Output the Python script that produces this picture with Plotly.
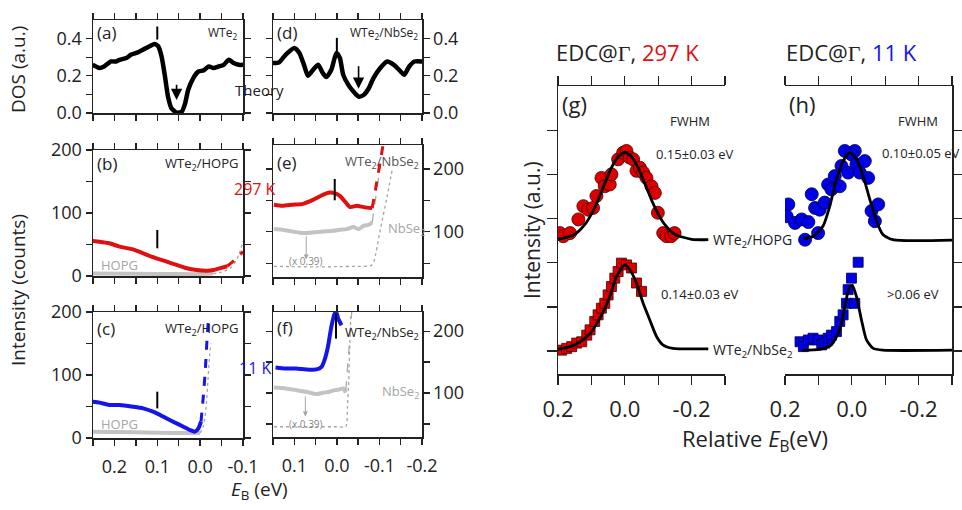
import plotly.graph_objects as go

W, H = 962, 510
RED = "rgb(222,16,16)"
BLUE = "rgb(20,20,235)"
GRAY = "rgb(195,195,195)"
DGRAY = "rgb(165,165,165)"
INK = "#222222"
FONT = "Open Sans"

# ---------------- data ----------------
# tick labels
lx_vals = [0.25, 0.2, 0.15, 0.1, 0.05, 0.0, -0.05, -0.1]
lx_text = ["", "0.2", "", "0.1", "", "0.0", "", "-0.1"]
rx_vals = [0.15, 0.1, 0.05, 0.0, -0.05, -0.1, -0.15, -0.2]
rx_text = ["", "0.1", "", "0.0", "", "-0.1", "", "-0.2"]
dos_vals = [0.0, 0.1, 0.2, 0.3, 0.4]
dos_text = ["0.0", "", "0.2", "", "0.4"]
cnt_vals = [0, 50, 100, 150, 200]
cnt_text = ["0", "", "100", "", "200"]
edc_x_vals = [0.2, 0.1, 0.0, -0.1, -0.2, -0.3]
edc_x_text = ["0.2", "", "0.0", "", "-0.2", ""]
edc_y_vals = [0, 1, 2, 3, 4, 5]

# (a) theory DOS WTe2
a_x = [0.251, 0.235, 0.224, 0.208, 0.196, 0.188, 0.172, 0.161, 0.149, 0.133, 0.118, 0.106, 0.098, 0.090,
       0.082, 0.075, 0.067, 0.055, 0.043, 0.035, 0.028, 0.016, 0.004, -0.008, -0.020, -0.031, -0.043,
       -0.055, -0.067, -0.078, -0.090, -0.100]
a_y = [0.259, 0.242, 0.250, 0.277, 0.277, 0.286, 0.296, 0.314, 0.323, 0.341, 0.359, 0.371, 0.359, 0.304,
       0.196, 0.088, 0.025, 0.002, 0.007, 0.052, 0.124, 0.188, 0.223, 0.229, 0.250, 0.242, 0.250,
       0.259, 0.286, 0.269, 0.259, 0.259]
# (d) theory DOS WTe2/NbSe2
d_x = [0.152, 0.136, 0.120, 0.100, 0.088, 0.076, 0.068, 0.056, 0.044, 0.033, 0.025, 0.013, 0.001, -0.007,
       -0.015, -0.027, -0.039, -0.051, -0.063, -0.075, -0.086, -0.102, -0.118, -0.134, -0.150, -0.158,
       -0.170, -0.182, -0.202]
d_y = [0.269, 0.272, 0.314, 0.350, 0.323, 0.250, 0.200, 0.232, 0.259, 0.215, 0.193, 0.232, 0.323, 0.296,
       0.205, 0.151, 0.115, 0.088, 0.097, 0.133, 0.188, 0.242, 0.277, 0.259, 0.223, 0.205,
       0.250, 0.277, 0.277]

# (b) WTe2/HOPG 297 K
b_red_x = [0.251, 0.235, 0.212, 0.188, 0.157, 0.133, 0.102, 0.078, 0.055, 0.031, 0.008, -0.016, -0.031, -0.047, -0.063]
b_red_y = [55.6, 54.5, 51.9, 46.6, 42.3, 36.0, 28.0, 22.8, 17.5, 12.2, 9.5, 8.5, 9.5, 12.5, 15.5]
b_red_dash_x = [-0.063, -0.075, -0.088, -0.100]
b_red_dash_y = [15.5, 22.0, 30.0, 39.0]
b_gray_x = [0.25, 0.15, 0.05, 0.0, -0.03]
b_gray_y = [4.0, 3.5, 3.0, 3.0, 4.0]
b_gray_dot_x = [-0.03, -0.05, -0.07, -0.08, -0.09, -0.10]
b_gray_dot_y = [4.0, 6.0, 12.0, 20.0, 33.0, 55.0]

# (c) WTe2/HOPG 11 K
c_blue_x = [0.251, 0.235, 0.212, 0.188, 0.157, 0.133, 0.110, 0.086, 0.063, 0.039, 0.024, 0.012, 0.004, -0.002]
c_blue_y = [57.7, 56.1, 52.4, 52.4, 49.7, 47.1, 41.8, 33.9, 25.9, 17.9, 12.7, 10.1, 15.3, 25.9]
c_blue_dash_x = [-0.002, -0.008, -0.012, -0.016, -0.020]
c_blue_dash_y = [25.9, 70.9, 107.9, 155.6, 195.0]
c_gray_x = [0.25, 0.15, 0.05, 0.0]
c_gray_y = [10.0, 9.0, 8.0, 8.0]
c_gray_dot_x = [0.0, -0.008, -0.014, -0.018, -0.022, -0.025]
c_gray_dot_y = [8.0, 20.0, 50.0, 90.0, 130.0, 150.0]

# (e) WTe2/NbSe2 297 K
e_red_x = [0.148, 0.128, 0.104, 0.080, 0.056, 0.033, 0.017, 0.005, -0.007, -0.019, -0.031, -0.047, -0.063, -0.083]
e_red_y = [142.9, 141.3, 142.9, 144.4, 150.8, 158.7, 162.4, 161.4, 157.1, 148.1, 139.2, 141.3, 139.2, 137.6]
e_red_dash_x = [-0.083, -0.090, -0.096, -0.102, -0.108]
e_red_dash_y = [137.6, 164.0, 188.0, 211.6, 236.0]
e_gray_x = [0.148, 0.128, 0.104, 0.080, 0.056, 0.033, 0.009, -0.007, -0.023, -0.039, -0.051, -0.063, -0.075, -0.083]
e_gray_y = [104.2, 103.2, 100.5, 97.9, 98.9, 100.5, 101.6, 103.2, 104.2, 107.4, 104.2, 109.5, 111.1, 114.8]
e_gray_dash_x = [-0.083, -0.092, -0.102]
e_gray_dash_y = [114.8, 160.0, 205.0]
e_nb_x = [0.148, 0.10, 0.05, 0.0, -0.05, -0.080, -0.087, -0.102, -0.118, -0.130]
e_nb_y = [44.9, 44.5, 44.0, 44.5, 45.0, 46.0, 52.9, 103.0, 156.0, 198.4]

# (f) WTe2/NbSe2 11 K
f_blue_x = [0.144, 0.120, 0.096, 0.072, 0.048, 0.036, 0.029, 0.021, 0.013, 0.005, 0.001, -0.003, -0.011]
f_blue_y = [141.4, 139.8, 139.8, 138.2, 138.2, 142.4, 153.2, 174.7, 207.0, 228.5, 230.0, 220.5, 209.7]
f_gray_x = [0.148, 0.120, 0.096, 0.072, 0.048, 0.033, 0.017, 0.005, -0.007, -0.015, -0.021]
f_gray_y = [109.1, 107.5, 104.8, 102.1, 98.4, 100.5, 102.1, 104.8, 106.0, 107.5, 100.5]
f_gray_dash_x = [-0.021, -0.035]
f_gray_dash_y = [104.8, 231.0]
f_nb_x = [0.148, 0.10, 0.05, 0.0, -0.021, -0.025, -0.028, -0.031, -0.033]
f_nb_y = [45.6, 45.6, 45.6, 45.6, 45.6, 77.9, 121.0, 190.8, 228.0]

# feature markers: (x, y_low, y_high)
tick_a = (0.10, 0.395, 0.465)
tick_d = (0.0, 0.323, 0.404)
tick_b = (0.10, 44.0, 73.0)
tick_c = (0.10, 47.0, 73.5)
tick_e = (0.005, 150.0, 184.0)
tick_f = (0.002, 188.0, 228.0)
# arrows: (x, y_tail, y_head)
arrow_a = (0.055, 0.16, 0.07)
arrow_d = (-0.051, 0.26, 0.13)
arrow_e = (0.072, 95.0, 56.0)
arrow_f = (0.074, 97.0, 62.0)

# (g) EDC 297 K
g_hopg_x = [0.194, 0.184, 0.164, 0.139, 0.124, 0.110, 0.095, 0.085, 0.070, 0.060, 0.045, 0.040, 0.020, 0.005,
            -0.005, -0.015, -0.025, -0.035, -0.045, -0.055, -0.065, -0.080, -0.090, -0.099, -0.115, -0.125,
            -0.139, -0.149]
g_hopg_y = [2.67, 2.60, 2.67, 2.98, 3.28, 3.20, 3.24, 3.51, 3.92, 3.73, 3.77, 4.00, 4.34, 4.49,
            4.53, 4.38, 4.34, 4.08, 4.15, 4.04, 3.92, 3.73, 3.58, 3.13, 2.67, 2.60,
            2.60, 2.67]
g_hopg_fit_x = [0.2, 0.15, 0.12, 0.1, 0.08, 0.06, 0.04, 0.02, 0.0, -0.02, -0.04, -0.06, -0.08, -0.1, -0.12,
                -0.15, -0.2, -0.25]
g_hopg_fit_y = [2.53, 2.64, 2.86, 3.10, 3.42, 3.79, 4.15, 4.40, 4.50, 4.40, 4.15, 3.79, 3.42, 3.10, 2.86,
                2.64, 2.53, 2.52]
g_nb_x = [0.189, 0.174, 0.159, 0.144, 0.129, 0.114, 0.104, 0.090, 0.080, 0.070, 0.060, 0.050, 0.040, 0.030,
          0.020, 0.010, -0.005, -0.020, -0.035, -0.050]
g_nb_y = [0.02, 0.06, 0.10, 0.18, 0.21, 0.36, 0.48, 0.67, 0.82, 0.97, 1.08, 1.27, 1.46, 1.65,
          1.80, 1.99, 1.95, 1.88, 1.54, 1.35]
g_nb_fit_x = [0.2, 0.164, 0.134, 0.104, 0.075, 0.045, 0.025, 0.0, -0.015, -0.035, -0.055, -0.075, -0.095,
              -0.114, -0.144, -0.25]
g_nb_fit_y = [0.04, 0.10, 0.21, 0.40, 0.74, 1.23, 1.69, 1.95, 1.84, 1.54, 1.08, 0.70, 0.33, 0.14, 0.06, 0.05]

# (h) EDC 11 K
h_hopg_x = [0.190, 0.195, 0.170, 0.150, 0.130, 0.140, 0.101, 0.110, 0.096, 0.081, 0.120, 0.071, 0.061, 0.051,
            0.036, 0.031, 0.011, 0.021, -0.009, 0.001, -0.014, -0.024, -0.039, -0.049, -0.059, -0.079, -0.069]
h_hopg_y = [3.32, 3.05, 2.90, 2.98, 2.92, 2.52, 2.67, 3.24, 3.20, 3.36, 3.55, 3.77, 3.66, 3.96,
            3.73, 4.19, 4.04, 4.53, 4.53, 4.45, 4.23, 4.04, 4.30, 3.92, 3.17, 3.32, 2.94]
h_hopg_fit_x = [0.145, 0.115, 0.086, 0.066, 0.046, 0.026, 0.006, -0.014, -0.034, -0.054, -0.074, -0.093,
                -0.123, -0.3]
h_hopg_fit_y = [2.54, 2.60, 2.83, 3.28, 3.89, 4.30, 4.49, 4.34, 3.96, 3.43, 2.94, 2.64, 2.52, 2.51]
h_nb_x = [0.155, 0.145, 0.130, 0.116, 0.101, 0.090, 0.081, 0.071, 0.061, 0.046, 0.036, 0.026, 0.016, 0.011,
          0.001, -0.009, -0.019]
h_nb_y = [0.21, 0.10, 0.25, 0.29, 0.25, 0.14, 0.18, 0.29, 0.36, 0.44, 0.67, 0.82, 1.08, 1.39,
          1.65, 1.08, 2.01]
h_nb_fit_x = [0.150, 0.096, 0.061, 0.036, 0.021, 0.008, -0.002, -0.014, -0.029, -0.044, -0.064, -0.093, -0.3]
h_nb_fit_y = [0.02, 0.04, 0.14, 0.48, 1.01, 1.42, 1.48, 1.23, 0.70, 0.25, 0.06, 0.02, 0.02]

# ---------------- figure ----------------
fig = go.Figure()


def line(xs, ys, xa, ya, color, width, dash="solid", shape="spline"):
    fig.add_trace(go.Scatter(x=xs, y=ys, xaxis=xa, yaxis=ya, mode="lines",
                             line=dict(color=color, width=width, dash=dash, shape=shape, smoothing=0.6),
                             hoverinfo="skip", showlegend=False))


def pts(xs, ys, xa, ya, color, edge, symbol, size):
    fig.add_trace(go.Scatter(x=xs, y=ys, xaxis=xa, yaxis=ya, mode="markers",
                             marker=dict(color=color, symbol=symbol, size=size,
                                         line=dict(color=edge, width=0.8)),
                             hoverinfo="skip", showlegend=False))


# (a),(d)
line(a_x, a_y, "x", "y", "black", 4.5)
line(d_x, d_y, "x4", "y4", "black", 4.5)
# (b)
line(b_gray_x, b_gray_y, "x2", "y2", GRAY, 4)
line(b_gray_dot_x, b_gray_dot_y, "x2", "y2", DGRAY, 1.3, "dot")
line(b_red_x, b_red_y, "x2", "y2", RED, 4)
line(b_red_dash_x, b_red_dash_y, "x2", "y2", RED, 3, "dash")
# (c)
line(c_gray_x, c_gray_y, "x3", "y3", GRAY, 4)
line(c_gray_dot_x, c_gray_dot_y, "x3", "y3", DGRAY, 1.3, "dot")
line(c_blue_x, c_blue_y, "x3", "y3", BLUE, 4)
line(c_blue_dash_x, c_blue_dash_y, "x3", "y3", BLUE, 3, "dash")
# (e)
line(e_nb_x, e_nb_y, "x5", "y5", DGRAY, 1.3, "dot")
line(e_gray_x, e_gray_y, "x5", "y5", GRAY, 4)
line(e_gray_dash_x, e_gray_dash_y, "x5", "y5", DGRAY, 1.2, "dash", "linear")
line(e_red_x, e_red_y, "x5", "y5", RED, 4)
line(e_red_dash_x, e_red_dash_y, "x5", "y5", RED, 3, "dash")
# (f)
line(f_nb_x, f_nb_y, "x6", "y6", DGRAY, 1.3, "dot")
line(f_gray_x, f_gray_y, "x6", "y6", GRAY, 4)
line(f_gray_dash_x, f_gray_dash_y, "x6", "y6", DGRAY, 1.2, "dash", "linear")
line(f_blue_x, f_blue_y, "x6", "y6", BLUE, 4)
# (g)
pts(g_hopg_x, g_hopg_y, "x7", "y7", "rgb(222,0,0)", "rgb(70,0,0)", "circle", 13)
pts(g_nb_x, g_nb_y, "x7", "y7", "rgb(222,0,0)", "rgb(70,0,0)", "square", 10)
line(g_hopg_fit_x, g_hopg_fit_y, "x7", "y7", "black", 2.8)
line(g_nb_fit_x, g_nb_fit_y, "x7", "y7", "black", 2.8)
# (h)
pts(h_hopg_x, h_hopg_y, "x8", "y8", "rgb(0,0,235)", "rgb(0,0,70)", "circle", 13)
pts(h_nb_x, h_nb_y, "x8", "y8", "rgb(0,0,235)", "rgb(0,0,70)", "square", 10)
line(h_hopg_fit_x, h_hopg_fit_y, "x8", "y8", "black", 2.8)
line(h_nb_fit_x, h_nb_fit_y, "x8", "y8", "black", 2.8)

# feature ticks
shapes = []
for (t, xr, yr, col) in [(tick_a, "x", "y", "black"), (tick_d, "x4", "y4", "black"),
                         (tick_b, "x2", "y2", "black"), (tick_c, "x3", "y3", "black"),
                         (tick_e, "x5", "y5", "black"), (tick_f, "x6", "y6", "black")]:
    shapes.append(dict(type="line", xref=xr, yref=yr, x0=t[0], x1=t[0], y0=t[1], y1=t[2],
                       line=dict(color=col, width=2)))

ann = []
for (ar, xr, yr, col, w, hs) in [(arrow_a, "x", "y", "black", 1.6, 1.4), (arrow_d, "x4", "y4", "black", 1.6, 1.4),
                                 (arrow_e, "x5", "y5", DGRAY, 1.0, 1.0), (arrow_f, "x6", "y6", DGRAY, 1.0, 1.0)]:
    ann.append(dict(x=ar[0], y=ar[2], ax=ar[0], ay=ar[1], xref=xr, yref=yr, axref=xr, ayref=yr,
                    showarrow=True, arrowhead=2, arrowsize=hs, arrowwidth=w, arrowcolor=col, text=""))


def T(text, x, y, size=13, color=INK, xanchor="center", angle=0, family=FONT):
    ann.append(dict(text=text, x=x / W, y=1 - y / H, xref="paper", yref="paper", showarrow=False,
                    xanchor=xanchor, yanchor="middle", textangle=angle,
                    font=dict(size=size, color=color, family=family)))


T("DOS (a.u.)", 18, 70, 19, angle=-90)
T("Intensity (counts)", 18, 290, 19, angle=-90)
T("<i>E</i><sub>B</sub> (eV)", 259, 490, 19)
T("Theory", 259, 90, 15)
T("(a)", 95, 33, 17, xanchor="left")
T("WTe<sub>2</sub>", 239, 33, 12, xanchor="right")
T("(d)", 275, 33, 17, xanchor="left")
T("WTe<sub>2</sub>/NbSe<sub>2</sub>", 420, 33, 12, xanchor="right")
T("(b)", 95, 164, 17, xanchor="left")
T("WTe<sub>2</sub>/HOPG", 240, 164, 13, xanchor="right")
T("297 K", 278, 189, 16, RED, xanchor="right")
T("HOPG", 99, 265, 13, DGRAY, xanchor="left")
T("(e)", 275, 162, 17, xanchor="left")
T("WTe<sub>2</sub>/NbSe<sub>2</sub>", 421, 162, 13, "#555555", xanchor="right")
T("NbSe<sub>2</sub>", 386, 229, 13, DGRAY, xanchor="left")
T("(x 0.39)", 306, 261, 10, "#888888")
T("(c)", 95, 328, 17, xanchor="left")
T("WTe<sub>2</sub>/HOPG", 240, 329, 13, xanchor="right")
T("11 K", 273, 368, 16, BLUE, xanchor="right")
T("HOPG", 99, 424, 13, DGRAY, xanchor="left")
T("(f)", 275, 327, 17, xanchor="left")
T("WTe<sub>2</sub>/NbSe<sub>2</sub>", 421, 333, 13, xanchor="right")
T("NbSe<sub>2</sub>", 380, 392, 13, DGRAY, xanchor="left")
T("(x 0.39)", 306, 424, 10, "#888888")
T("EDC@<span style='font-family:Liberation Serif'>Γ</span>, <span style='color:rgb(222,16,16)'>297 K</span>",
  554, 52, 22, xanchor="left")
T("EDC@<span style='font-family:Liberation Serif'>Γ</span>, <span style='color:rgb(20,20,235)'>11 K</span>",
  784, 52, 22, xanchor="left")
T("(g)", 560, 104, 22, xanchor="left")
T("FWHM", 690, 121, 13)
T("0.15±0.03 eV", 695, 154, 13)
T("WTe<sub>2</sub>/HOPG", 711, 240, 14, xanchor="left")
T("0.14±0.03 eV", 700, 294, 13)
T("WTe<sub>2</sub>/NbSe<sub>2</sub>", 711, 350, 14, xanchor="left")
T("(h)", 787, 104, 22, xanchor="left")
T("FWHM", 918, 121, 13)
T("0.10±0.05 eV", 880, 153, 13, xanchor="left")
T("&gt;0.06 eV", 913, 294, 13)
T("Relative <i>E</i><sub>B</sub>(eV)", 755, 440, 22)
T("Intensity (a.u.)", 532, 230, 21, angle=-90)


def ydom(top, bot):
    return [1 - bot / H, 1 - top / H]


base = dict(showline=True, linecolor=INK, linewidth=1.5, ticks="outside", ticklen=6, tickwidth=1.3,
            tickcolor=INK, mirror="allticks", showgrid=False, zeroline=False, automargin=False,
            tickfont=dict(size=18, color=INK, family=FONT))

L = [93 / W, 243 / W]
R = [273 / W, 422 / W]

layout = dict(width=W, height=H, autosize=False, margin=dict(l=0, r=0, t=0, b=0, pad=0),
              paper_bgcolor="white", plot_bgcolor="white", showlegend=False,
              font=dict(family=FONT, color=INK), shapes=shapes, annotations=ann)

def xa(domain, rng, vals, text, anchor, show):
    d = dict(base, domain=domain, range=rng, tickvals=vals, ticktext=text, anchor=anchor,
             showticklabels=show, ticklabelstandoff=6)
    return d

def ya(domain, rng, vals, text, anchor, side="left"):
    return dict(base, domain=domain, range=rng, tickvals=vals, ticktext=text, anchor=anchor, side=side)

layout["xaxis"] = xa(L, [0.25, -0.1], lx_vals, lx_text, "y", False)
layout["yaxis"] = ya(ydom(20, 113), [0, 0.5], dos_vals, dos_text, "x")
layout["xaxis2"] = xa(L, [0.25, -0.1], lx_vals, lx_text, "y2", False)
layout["yaxis2"] = ya(ydom(150, 276), [0, 200], cnt_vals, cnt_text, "x2")
layout["xaxis3"] = xa(L, [0.25, -0.1], lx_vals, lx_text, "y3", True)
layout["yaxis3"] = ya(ydom(312, 438), [0, 200], cnt_vals, cnt_text, "x3")
layout["xaxis4"] = xa(R, [0.15, -0.2], rx_vals, rx_text, "y4", False)
layout["yaxis4"] = ya(ydom(20, 113), [0, 0.5], dos_vals, dos_text, "x4", "right")
layout["xaxis5"] = xa(R, [0.15, -0.2], rx_vals, rx_text, "y5", False)
layout["yaxis5"] = ya(ydom(145, 277), [28, 238], cnt_vals, cnt_text, "x5", "right")
layout["xaxis6"] = xa(R, [0.15, -0.2], rx_vals, rx_text, "y6", True)
layout["yaxis6"] = ya(ydom(312, 437), [29, 231], cnt_vals, cnt_text, "x6", "right")

G = [558 / W, 725 / W]
Hd = [785 / W, 952 / W]
edc_x = dict(base, range=[0.2, -0.3], tickvals=edc_x_vals, ticktext=edc_x_text, ticklen=9,
             tickfont=dict(size=22, color=INK, family=FONT), ticklabelstandoff=6)
edc_y = dict(showline=True, linecolor=INK, linewidth=1.5, ticks="outside", ticklen=10, tickwidth=1.3,
             tickcolor=INK, mirror=False, showgrid=False, zeroline=False, range=[-0.52, 6.0],
             automargin=False, tickvals=edc_y_vals, showticklabels=False, domain=ydom(86, 374))
layout["xaxis7"] = dict(edc_x, domain=G, anchor="y7")
layout["yaxis7"] = dict(edc_y, anchor="x7", side="left")
layout["xaxis8"] = dict(edc_x, domain=Hd, anchor="y8")
layout["yaxis8"] = dict(edc_y, anchor="x8", side="right")

fig.update_layout(**layout)
fig.write_html("out.html", config={"displayModeBar": False, "staticPlot": True},
               post_script="document.body.style.margin='0';document.body.style.overflow='hidden';")
